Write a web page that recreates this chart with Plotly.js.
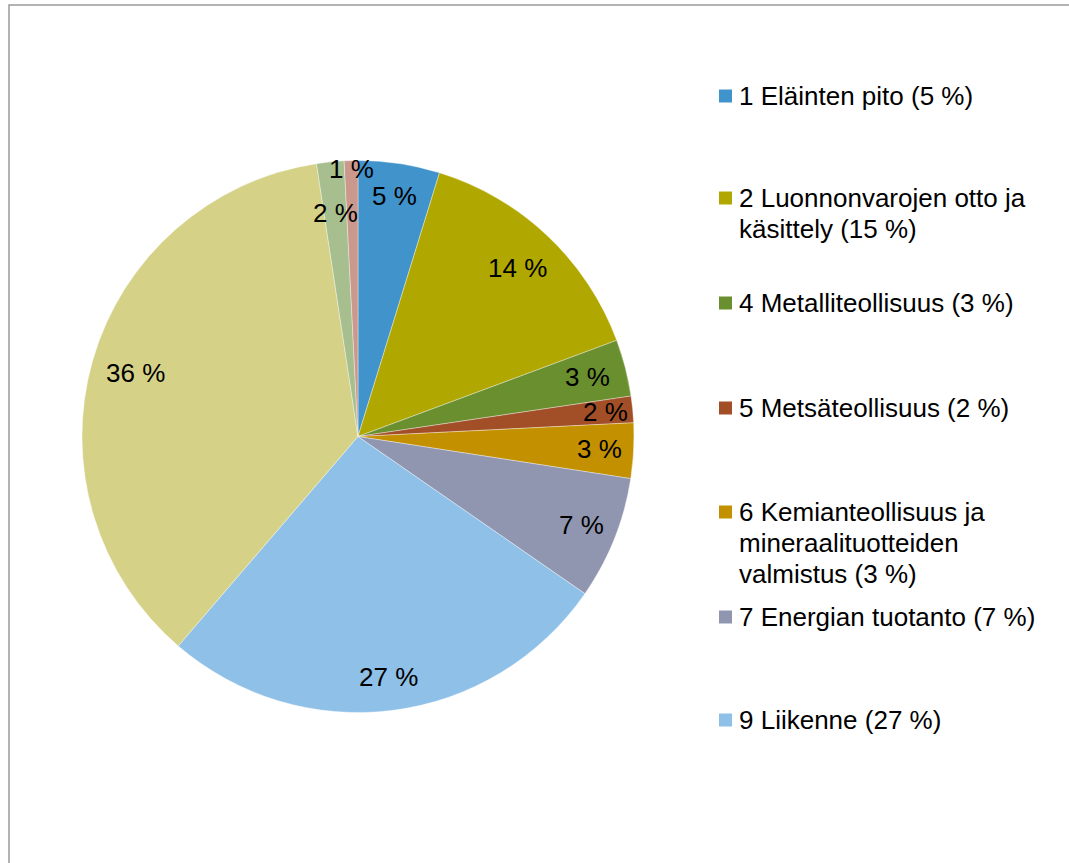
<!DOCTYPE html>
<html>
<head>
<meta charset="utf-8">
<script src="https://cdn.plot.ly/plotly-3.0.1.min.js"></script>
<style>html,body{margin:0;padding:0;background:#fff;}#chart{width:1069px;height:863px;}</style>
</head>
<body>
<div id="chart"></div>
<script>
// ---- data ----
const categories = [
  "1 Eläinten pito",
  "2 Luonnonvarojen otto ja käsittely",
  "4 Metalliteollisuus",
  "5 Metsäteollisuus",
  "6 Kemianteollisuus ja mineraalituotteiden valmistus",
  "7 Energian tuotanto",
  "9 Liikenne",
  "Muu (36 %)",
  "Muu (2 %)",
  "Muu (1 %)"
];
const values = [4.77, 14.56, 3.32, 1.55, 3.23, 7.2, 26.64, 36.3, 1.6, 0.8];
const sliceLabels = ["5 %", "14 %", "3 %", "2 %", "3 %", "7 %", "27 %", "36 %", "2 %", "1 %"];
// legend entries (as shown, wrapped as in the reference)
const legendLines = [
  ["1 Eläinten pito (5 %)"],
  ["2 Luonnonvarojen otto ja", "käsittely (15 %)"],
  ["4 Metalliteollisuus (3 %)"],
  ["5 Metsäteollisuus (2 %)"],
  ["6 Kemianteollisuus ja", "mineraalituotteiden", "valmistus (3 %)"],
  ["7 Energian tuotanto (7 %)"],
  ["9 Liikenne (27 %)"]
];

// ---- styles / layout ----
const colors = ["#4193CB", "#B0A800", "#6A8F2F", "#A24F28", "#C39000", "#9096B0",
                "#8FC0E8", "#D5D288", "#A7BE8E", "#CA988D"];
const W = 1069, H = 863;
const cx = 358, cy = 436.5, R = 276;
const labelRadius = [0.88, 0.84, 0.86, 0.9, 0.875, 0.87, 0.88, 0.84, 0.815, 0.97];
const legendTopY = [96, 198, 303, 408, 512, 617, 720];
const legendLineGap = 31;
const legendSquareX = 719, legendTextX = 737, sq = 13;
const FONT = "Liberation Sans, Arial, sans-serif";
const fs = 26;

const px = x => x / W;
const py = y => 1 - y / H;

const trace = {
  type: "pie",
  labels: categories,
  values: values,
  sort: false,
  direction: "clockwise",
  rotation: 0,
  textinfo: "none",
  hoverinfo: "label+percent",
  marker: { colors: colors, line: { color: "rgba(255,255,255,0.6)", width: 0.6 } },
  domain: { x: [px(cx - R), px(cx + R)], y: [py(cy + R), py(cy - R)] },
  showlegend: false
};

const annotations = [];
const shapes = [];

// slice labels placed along each slice's bisector
const total = values.reduce((a, b) => a + b, 0);
let cum = 0;
values.forEach((v, i) => {
  const mid = (cum + v / 2) / total * 2 * Math.PI;
  cum += v;
  const r = R * labelRadius[i];
  const x = cx + r * Math.sin(mid);
  const y = cy - r * Math.cos(mid);
  annotations.push({
    xref: "paper", yref: "paper", x: px(x), y: py(y),
    xanchor: "center", yanchor: "middle", showarrow: false,
    text: sliceLabels[i], font: { family: FONT, size: fs, color: "#000" }
  });
});

// legend
legendLines.forEach((lines, i) => {
  const y0 = legendTopY[i];
  shapes.push({
    type: "rect", xref: "paper", yref: "paper",
    x0: px(legendSquareX), x1: px(legendSquareX + sq),
    y0: py(y0 - sq / 2), y1: py(y0 + sq / 2),
    fillcolor: colors[i], line: { width: 0 }
  });
  lines.forEach((t, j) => {
    annotations.push({
      xref: "paper", yref: "paper", x: px(legendTextX), y: py(y0 + j * legendLineGap),
      xanchor: "left", yanchor: "middle", showarrow: false,
      text: t, font: { family: FONT, size: fs, color: "#000" }
    });
  });
});

// chart frame
shapes.push({
  type: "rect", xref: "paper", yref: "paper",
  x0: px(9), x1: 1.05, y0: -0.05, y1: py(5),
  line: { color: "#9a9a9a", width: 1.5 }, fillcolor: "rgba(0,0,0,0)"
});

const layout = {
  width: W, height: H,
  margin: { l: 0, r: 0, t: 0, b: 0 },
  paper_bgcolor: "#fff",
  showlegend: false,
  annotations: annotations,
  shapes: shapes
};

Plotly.newPlot("chart", [trace], layout, { displayModeBar: false, staticPlot: true });
</script>
</body>
</html>
